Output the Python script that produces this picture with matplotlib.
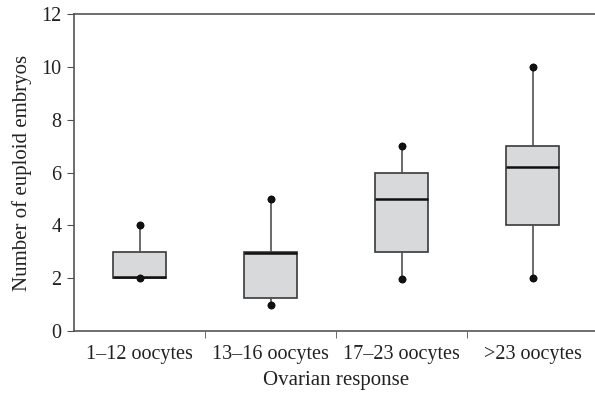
import matplotlib
matplotlib.use("Agg")
import matplotlib.pyplot as plt

categories = ["1\u201312 oocytes", "13\u201316 oocytes", "17\u201323 oocytes", ">23 oocytes"]
q1 = [2.0, 1.25, 3.0, 4.0]
median = [2.05, 2.95, 5.0, 6.2]
q3 = [3.0, 3.0, 6.0, 7.0]
whisker_low = [2.0, 1.0, 1.95, 2.0]
whisker_high = [4.0, 5.0, 7.0, 10.0]

plt.rcParams["font.family"] = ["Liberation Serif", "DejaVu Serif"]

stats = []
for i in range(len(categories)):
    stats.append({"label": categories[i], "q1": q1[i], "med": median[i], "q3": q3[i],
                  "whislo": whisker_low[i], "whishi": whisker_high[i], "fliers": []})

fig = plt.figure(figsize=(5.95, 3.93), dpi=100)
ax = fig.add_axes([74 / 595, 62 / 393, 524 / 595, 317 / 393])

edge = "#3a3a3a"
ax.bxp(stats, positions=range(1, 5), widths=0.4, patch_artist=True, capwidths=0,
       boxprops=dict(facecolor="#d8d9da", edgecolor=edge, linewidth=1.2),
       medianprops=dict(color="#111111", linewidth=1.8),
       whiskerprops=dict(color="#505050", linewidth=1.2),
       capprops=dict(color="#111111", marker="o", markersize=4.5, linestyle="none"))

ax.set_xlim(0.5, 4.5)
ax.set_ylim(0, 12)
ax.set_yticks(range(0, 13, 2))
ax.set_xticks([1, 2, 3, 4])
ax.set_xticklabels(categories)
ax.set_xticks([1.5, 2.5, 3.5], minor=True)
ax.tick_params(axis="x", which="major", length=0, pad=10, labelsize=14.5, colors="#222222")
ax.tick_params(axis="x", which="minor", length=5, direction="out", color="#505050")
ax.tick_params(axis="y", length=5, direction="out", color="#505050", labelcolor="#222222",
               labelsize=14.5, pad=4)

for side in ["left", "bottom", "top", "right"]:
    ax.spines[side].set_color("#555555")
    ax.spines[side].set_linewidth(1.2)

ax.set_xlabel("Ovarian response", fontsize=15, labelpad=5, color="#222222")
ax.set_ylabel("Number of euploid embryos", fontsize=15, labelpad=7, color="#222222")

fig.savefig("out.png", dpi=100)
